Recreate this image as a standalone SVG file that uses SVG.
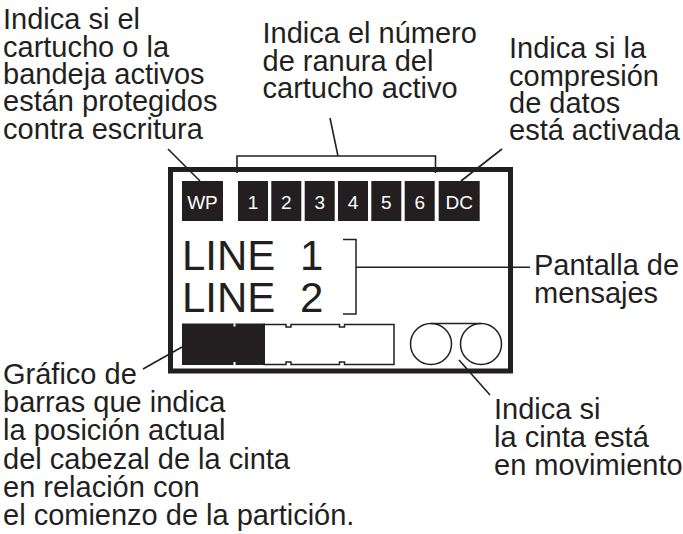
<svg xmlns="http://www.w3.org/2000/svg" width="683" height="534" viewBox="0 0 683 534">
<style>
  .lbl{font-family:"Liberation Sans",Arial,sans-serif;font-size:29px;fill:#231f20}
  .ind{fill:#231f20}
  .indt{font-family:"Liberation Sans",Arial,sans-serif;font-size:19px;fill:#ffffff;text-anchor:middle}
  .lcd{font-family:"Liberation Sans",Arial,sans-serif;font-size:42px;fill:#231f20}
  .ln{fill:none;stroke:#231f20;stroke-width:1.6}
  .thin{fill:none;stroke:#231f20;stroke-width:1.5}
</style>
<rect width="683" height="534" fill="#ffffff"/>

<g id="display">
  <rect x="170.5" y="169.5" width="340" height="201.5" fill="none" stroke="#231f20" stroke-width="5"/>
</g>

<g id="indicator-wp">
  <rect class="ind" x="182" y="181" width="41" height="40"/>
  <text class="indt" x="202.5" y="208.5">WP</text>
</g>
<g id="indicator-slots">
  <rect class="ind" x="238" y="181" width="30" height="40"/>
  <text class="indt" x="253" y="208.5">1</text>
  <rect class="ind" x="271.3" y="181" width="30" height="40"/>
  <text class="indt" x="286.3" y="208.5">2</text>
  <rect class="ind" x="304.7" y="181" width="30" height="40"/>
  <text class="indt" x="319.7" y="208.5">3</text>
  <rect class="ind" x="338" y="181" width="30" height="40"/>
  <text class="indt" x="353" y="208.5">4</text>
  <rect class="ind" x="371.3" y="181" width="30" height="40"/>
  <text class="indt" x="386.3" y="208.5">5</text>
  <rect class="ind" x="404.7" y="181" width="30" height="40"/>
  <text class="indt" x="419.7" y="208.5">6</text>
</g>
<g id="indicator-dc">
  <rect class="ind" x="438.7" y="181" width="41" height="40"/>
  <text class="indt" x="459.2" y="208.5">DC</text>
</g>

<g id="message-lines">
  <text class="lcd" x="182" y="270">LINE</text>
  <text class="lcd" x="300" y="270">1</text>
  <text class="lcd" x="182" y="311.5">LINE</text>
  <text class="lcd" x="300" y="311.5">2</text>
  <path class="thin" d="M343 239.5 H356 V314 H343"/>
</g>

<g id="bar-graph">
  <path class="thin" d="M264 324.5 H286 v2.5 h5 v-2.5 H339.5 v2.5 h5 v-2.5 H394 V364.5 H344.5 v-2.5 h-5 v2.5 H291 v-2.5 h-5 v2.5 H264 Z"/>
  <rect class="ind" x="182" y="323.5" width="83" height="41.5"/>
  <rect x="233.5" y="323.5" width="2" height="3" fill="#ffffff"/>
  <rect x="233.5" y="362" width="2" height="3" fill="#ffffff"/>
</g>

<g id="tape-motion">
  <circle class="thin" cx="431" cy="344" r="20.5"/>
  <circle class="thin" cx="481" cy="344" r="20.5"/>
  <line class="thin" x1="431" y1="323.5" x2="481" y2="323.5"/>
</g>

<g id="connectors">
  <line class="ln" x1="168" y1="149" x2="200" y2="181"/>
  <path class="ln" d="M237 173 V156 H435.5 V173"/>
  <line class="ln" x1="330" y1="118" x2="338" y2="156"/>
  <line class="ln" x1="502" y1="149" x2="461" y2="181"/>
  <line class="ln" x1="356" y1="267.3" x2="530" y2="267.3"/>
  <line class="ln" x1="143" y1="369" x2="182" y2="347"/>
  <line class="ln" x1="459" y1="360" x2="490" y2="395"/>
</g>

<g id="label-wp">
  <text class="lbl" x="3" y="29">Indica si el</text>
  <text class="lbl" x="3" y="56.5">cartucho o la</text>
  <text class="lbl" x="3" y="84">bandeja activos</text>
  <text class="lbl" x="3" y="111">están protegidos</text>
  <text class="lbl" x="3" y="138.5">contra escritura</text>
</g>
<g id="label-slot">
  <text class="lbl" x="262.5" y="43">Indica el número</text>
  <text class="lbl" x="262.5" y="70.5">de ranura del</text>
  <text class="lbl" x="262.5" y="98">cartucho activo</text>
</g>
<g id="label-dc">
  <text class="lbl" x="509" y="58">Indica si la</text>
  <text class="lbl" x="509" y="85.5">compresión</text>
  <text class="lbl" x="509" y="113">de datos</text>
  <text class="lbl" x="509" y="140">está activada</text>
</g>
<g id="label-messages">
  <text class="lbl" x="534" y="274.5">Pantalla de</text>
  <text class="lbl" x="534" y="303">mensajes</text>
</g>
<g id="label-bar">
  <text class="lbl" x="3" y="384">Gráfico de</text>
  <text class="lbl" x="3" y="412">barras que indica</text>
  <text class="lbl" x="3" y="440">la posición actual</text>
  <text class="lbl" x="3" y="468.5">del cabezal de la cinta</text>
  <text class="lbl" x="3" y="497">en relación con</text>
  <text class="lbl" x="3" y="525">el comienzo de la partición.</text>
</g>
<g id="label-tape">
  <text class="lbl" x="494" y="419">Indica si</text>
  <text class="lbl" x="494" y="447">la cinta está</text>
  <text class="lbl" x="494" y="475">en movimiento</text>
</g>
</svg>
